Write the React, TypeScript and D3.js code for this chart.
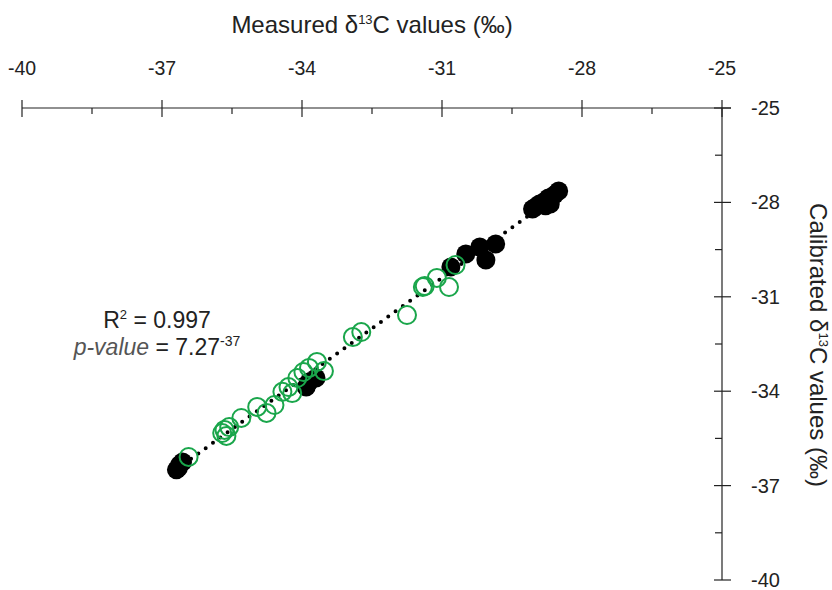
import React, { useEffect, useRef } from "react";
import * as d3 from "d3";

const WIDTH = 832;
const HEIGHT = 590;

// measured (x) vs calibrated (y) d13C, per-mil
const blackX = [-28.5, -28.59, -28.72, -28.82, -28.91, -29.0, -29.06, -28.68, -28.78,
  -29.85, -30.19, -30.49, -30.06, -30.81, -33.85, -33.91, -33.7,
  -36.62, -36.69, -36.56, -36.65];
const blackY = [-27.64, -27.76, -27.86, -27.99, -28.05, -28.15, -28.21, -28.05, -28.11,
  -29.32, -29.42, -29.64, -29.83, -30.05, -33.71, -33.87, -33.58,
  -36.34, -36.5, -36.25, -36.44];

const greenX = [-30.71, -31.11, -31.37, -31.41, -30.85, -31.75, -32.73, -32.91, -33.53, -33.68,
  -33.85, -33.97, -34.1, -34.29, -34.21, -34.42, -34.96, -34.76, -34.59, -35.3,
  -35.56, -35.66, -35.71, -35.62, -36.43];
const greenY = [-29.99, -30.4, -30.66, -30.69, -30.69, -31.58, -32.12, -32.28, -33.36, -33.07,
  -33.26, -33.39, -33.58, -33.87, -34.06, -34.02, -34.5, -34.69, -34.44, -34.85,
  -35.14, -35.23, -35.33, -35.42, -36.09];

const xTicks = [-40, -37, -34, -31, -28, -25];
const yTicks = [-25, -28, -31, -34, -37, -40];

const FONT = "'Liberation Sans', Arial, Helvetica, sans-serif";

export default function App() {
  const ref = useRef<SVGSVGElement>(null);

  useEffect(() => {
    const svg = d3.select(ref.current);
    svg.selectAll("*").remove();

    const left = 22, right = 722, top = 108, bottom = 580;
    const x = d3.scaleLinear().domain([-40, -25]).range([left, right]);
    const y = d3.scaleLinear().domain([-25, -40]).range([top, bottom]);

    const axisColor = "#222";

    // top axis
    svg.append("line")
      .attr("x1", left).attr("x2", right + 9)
      .attr("y1", top).attr("y2", top)
      .attr("stroke", axisColor).attr("stroke-width", 1.2);
    xTicks.forEach((t) => {
      svg.append("line")
        .attr("x1", x(t)).attr("x2", x(t))
        .attr("y1", top - 8).attr("y2", top + 9)
        .attr("stroke", axisColor).attr("stroke-width", 1.2);
      svg.append("text")
        .attr("x", x(t)).attr("y", 75)
        .attr("text-anchor", "middle")
        .attr("font-family", FONT).attr("font-size", 19.5)
        .attr("fill", "#222")
        .text(t);
    });
    d3.range(-38.5, -25, 3).forEach((t) => {
      svg.append("line")
        .attr("x1", x(t)).attr("x2", x(t))
        .attr("y1", top).attr("y2", top + 6)
        .attr("stroke", axisColor).attr("stroke-width", 1.2);
    });

    // right axis
    svg.append("line")
      .attr("x1", right).attr("x2", right)
      .attr("y1", top).attr("y2", bottom)
      .attr("stroke", axisColor).attr("stroke-width", 1.2);
    yTicks.forEach((t) => {
      svg.append("line")
        .attr("x1", right - 8).attr("x2", right + 9)
        .attr("y1", y(t)).attr("y2", y(t))
        .attr("stroke", axisColor).attr("stroke-width", 1.2);
      svg.append("text")
        .attr("x", 751).attr("y", y(t) + 7)
        .attr("font-family", FONT).attr("font-size", 20)
        .attr("fill", "#222")
        .text(t);
    });
    d3.range(-26.5, -40, -3).forEach((t) => {
      svg.append("line")
        .attr("x1", right - 7).attr("x2", right)
        .attr("y1", y(t)).attr("y2", y(t))
        .attr("stroke", axisColor).attr("stroke-width", 1.2);
    });

    // axis titles
    const tt = svg.append("text")
      .attr("x", 372).attr("y", 33)
      .attr("text-anchor", "middle")
      .attr("font-family", FONT).attr("font-size", 24)
      .attr("fill", "#222");
    tt.append("tspan").text("Measured δ");
    tt.append("tspan").attr("dy", -9).attr("font-size", 13).text("13");
    tt.append("tspan").attr("dy", 9).text("C values (‰)");

    const rt = svg.append("text")
      .attr("transform", "translate(810,345) rotate(90)")
      .attr("text-anchor", "middle")
      .attr("font-family", FONT).attr("font-size", 24)
      .attr("fill", "#222");
    rt.append("tspan").text("Calibrated δ");
    rt.append("tspan").attr("dy", -9).attr("font-size", 13).text("13");
    rt.append("tspan").attr("dy", 9).text("C values (‰)");

    // regression line, least squares over all points
    const allX = blackX.concat(greenX);
    const allY = blackY.concat(greenY);
    const mx = d3.mean(allX) as number;
    const my = d3.mean(allY) as number;
    const slope = d3.sum(allX, (v, i) => (v - mx) * (allY[i] - my)) /
      d3.sum(allX, (v) => (v - mx) * (v - mx));
    const icpt = my - slope * mx;
    const [x0, x1] = d3.extent(allX) as [number, number];
    svg.append("line")
      .attr("x1", x(x0)).attr("y1", y(icpt + slope * x0))
      .attr("x2", x(x1)).attr("y2", y(icpt + slope * x1))
      .attr("stroke", "#000").attr("stroke-width", 4)
      .attr("stroke-linecap", "round")
      .attr("stroke-dasharray", "0 9");

    // black (filled) points
    svg.append("g").selectAll("circle")
      .data(blackX)
      .join("circle")
      .attr("cx", (d) => x(d))
      .attr("cy", (d, i) => y(blackY[i]))
      .attr("r", 9.5)
      .attr("fill", "#000");

    // green (open) points
    svg.append("g").selectAll("circle")
      .data(greenX)
      .join("circle")
      .attr("cx", (d) => x(d))
      .attr("cy", (d, i) => y(greenY[i]))
      .attr("r", 9)
      .attr("fill", "none")
      .attr("stroke", "#1aa64b")
      .attr("stroke-width", 2);

    // stats annotation
    const r2 = svg.append("text")
      .attr("x", 157).attr("y", 328)
      .attr("text-anchor", "middle")
      .attr("font-family", FONT).attr("font-size", 23)
      .attr("fill", "#222");
    r2.append("tspan").text("R");
    r2.append("tspan").attr("dy", -9).attr("font-size", 13).text("2");
    r2.append("tspan").attr("dy", 9).text(" = 0.997");

    const pv = svg.append("text")
      .attr("x", 157).attr("y", 355)
      .attr("text-anchor", "middle")
      .attr("font-family", FONT).attr("font-size", 23)
      .attr("fill", "#222");
    pv.append("tspan").attr("font-style", "italic").attr("fill", "#555").text("p-value");
    pv.append("tspan").text(" = 7.27");
    pv.append("tspan").attr("dy", -9).attr("font-size", 14).text("-37");
  }, []);

  return (
    <svg
      ref={ref}
      width={WIDTH}
      height={HEIGHT}
      style={{ position: "absolute", left: 0, top: 0, background: "#fff" }}
    />
  );
}
